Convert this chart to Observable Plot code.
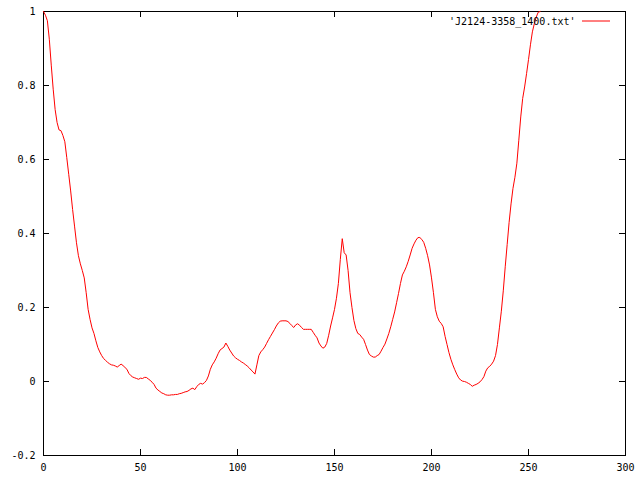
<!DOCTYPE html>
<html>
<head>
<meta charset="utf-8">
<script src="https://cdn.jsdelivr.net/npm/d3@7"></script>
<script src="https://cdn.jsdelivr.net/npm/@observablehq/plot@0.6"></script>
<style>
  html, body { margin: 0; padding: 0; background: #fff; }
  svg { display: block; }
</style>
</head>
<body>
<div id="chart"></div>
<script>
const seriesName = "'J2124-3358_1400.txt'";
const xTicks = [0, 50, 100, 150, 200, 250, 300];
const yTicks = [-0.2, 0, 0.2, 0.4, 0.6, 0.8, 1];
const xs = d3.range(0, 257);
const ys = [
  1.0, 0.99, 0.975, 0.925, 0.855, 0.79, 0.735, 0.7, 0.68, 0.678,
  0.665, 0.648, 0.605, 0.56, 0.515, 0.465, 0.42, 0.375, 0.34, 0.318,
  0.3, 0.28, 0.24, 0.195, 0.168, 0.145, 0.13, 0.11, 0.092, 0.08,
  0.07, 0.062, 0.057, 0.052, 0.048, 0.045, 0.044, 0.042, 0.039, 0.043,
  0.047, 0.043, 0.038, 0.033, 0.022, 0.016, 0.012, 0.01, 0.008, 0.006,
  0.009, 0.008, 0.011, 0.011, 0.007, 0.003, -0.002, -0.008, -0.018, -0.023,
  -0.027, -0.031, -0.033, -0.036, -0.037, -0.037, -0.036, -0.036, -0.035, -0.035,
  -0.033, -0.032, -0.03, -0.028, -0.027, -0.024, -0.02, -0.018, -0.022, -0.014,
  -0.008, -0.005, -0.007, -0.003, 0.003, 0.015, 0.033, 0.045, 0.053, 0.063,
  0.075, 0.085, 0.089, 0.093, 0.104, 0.095, 0.085, 0.077, 0.069, 0.064,
  0.06, 0.057, 0.053, 0.05, 0.046, 0.042, 0.037, 0.031, 0.026, 0.02,
  0.045, 0.07, 0.08, 0.086, 0.093, 0.103, 0.113, 0.122, 0.131, 0.14,
  0.15, 0.158, 0.163, 0.164, 0.164, 0.164, 0.162, 0.157, 0.151, 0.146,
  0.153, 0.156, 0.152, 0.146, 0.141, 0.141, 0.141, 0.141, 0.141, 0.133,
  0.125, 0.118, 0.104, 0.096, 0.09, 0.093, 0.103, 0.125, 0.15, 0.172,
  0.195, 0.225, 0.265, 0.33, 0.386, 0.348, 0.342, 0.3, 0.24, 0.2,
  0.165, 0.143, 0.13, 0.127, 0.12, 0.114, 0.1, 0.085, 0.073, 0.069,
  0.066, 0.066, 0.07, 0.073, 0.082, 0.092, 0.101, 0.115, 0.13, 0.148,
  0.168, 0.188, 0.213, 0.238, 0.265, 0.288, 0.298, 0.31, 0.325, 0.342,
  0.36, 0.372, 0.382, 0.389, 0.389, 0.384, 0.376, 0.36, 0.34, 0.315,
  0.28, 0.24, 0.195, 0.175, 0.163, 0.157, 0.148, 0.122, 0.1, 0.078,
  0.06, 0.045, 0.032, 0.02, 0.01, 0.004, 0.001, 0.0, -0.002, -0.005,
  -0.008, -0.013, -0.01, -0.008, -0.005, -0.001, 0.005, 0.013, 0.028, 0.037,
  0.041, 0.047, 0.055, 0.07, 0.1, 0.145, 0.19, 0.245, 0.31, 0.37,
  0.43, 0.48, 0.522, 0.552, 0.59, 0.652, 0.715, 0.765, 0.796, 0.832,
  0.87, 0.91, 0.945, 0.967, 0.985, 0.998, 1.0
];
const data = xs.map((x, i) => ({x, y: ys[i]}));
const fmt = d => String(+d.toFixed(1));

const W = 640, H = 480, mL = 43, mR = 15, mT = 11, mB = 25;
const plotW = W - mL - mR, plotH = H - mT - mB, tick = 6;

const chart = Plot.plot({
  width: W,
  height: H,
  marginLeft: mL,
  marginRight: mR,
  marginTop: mT,
  marginBottom: mB,
  style: {fontFamily: "'DejaVu Sans Mono', monospace", fontSize: "10px", color: "black", background: "white"},
  x: {domain: [0, 300], label: null},
  y: {domain: [-0.2, 1], label: null},
  marks: [
    Plot.axisX(xTicks, {anchor: "bottom", tickSize: 0, tickPadding: 8, tickFormat: fmt, label: null}),
    Plot.axisY(yTicks, {anchor: "left", tickSize: 0, tickPadding: 8, tickFormat: fmt, label: null}),
    Plot.ruleX(xTicks, {x: d => d, stroke: "black", insetTop: plotH - tick}),
    Plot.ruleX(xTicks, {x: d => d, stroke: "black", insetBottom: plotH - tick}),
    Plot.ruleY(yTicks, {y: d => d, stroke: "black", insetRight: plotW - tick}),
    Plot.ruleY(yTicks, {y: d => d, stroke: "black", insetLeft: plotW - tick}),
    Plot.frame({stroke: "black", strokeWidth: 1}),
    Plot.line(data, {x: "x", y: "y", stroke: "red", strokeWidth: 1}),
    Plot.text([seriesName], {frameAnchor: "top-right", dx: -50, dy: 10, textAnchor: "end", lineAnchor: "middle", fill: "black", fontSize: 10})
  ]
});

// legend sample line
const svg = d3.select(chart);
svg.append("line")
  .attr("x1", W - mR - 43).attr("x2", W - mR - 15)
  .attr("y1", 21).attr("y2", 21)
  .attr("stroke", "red").attr("stroke-width", 1);

document.getElementById("chart").appendChild(chart);
</script>
</body>
</html>
